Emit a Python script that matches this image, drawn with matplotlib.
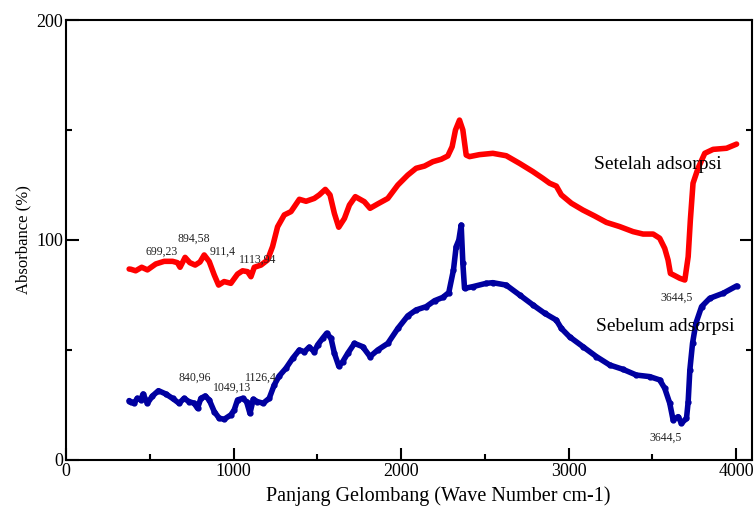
import matplotlib
matplotlib.use('Agg')
import matplotlib.pyplot as plt
from matplotlib.ticker import MultipleLocator

plt.rcParams['font.family'] = ['Liberation Serif', 'DejaVu Serif']

# Setelah adsorpsi (red)
wn_after = [377, 387, 416, 452, 486, 536, 586, 636, 665, 681, 711, 739, 771, 800, 825,
            855, 885, 911, 944, 984, 1024, 1054, 1084, 1104, 1124, 1164, 1203, 1233,
            1263, 1303, 1343, 1393, 1433, 1482, 1512, 1548, 1576, 1602, 1628, 1662,
            1692, 1727, 1781, 1815, 1861, 1921, 1981, 2040, 2090, 2140, 2190, 2240,
            2279, 2305, 2325, 2349, 2369, 2389, 2409, 2468, 2548, 2628, 2708, 2787,
            2847, 2887, 2927, 2957, 3017, 3086, 3156, 3226, 3305, 3385, 3445, 3505,
            3544, 3574, 3594, 3608, 3634, 3664, 3694, 3714, 3727, 3743, 3773, 3813,
            3863, 3943, 4003]
abs_after = [86.8, 86.7, 86.0, 87.6, 86.4, 89.1, 90.3, 90.3, 89.7, 87.6, 92.1, 89.7,
             88.6, 90.0, 93.2, 90.2, 84.1, 79.5, 81.1, 80.3, 84.5, 86.0, 85.6, 83.3,
             87.6, 88.6, 90.9, 97.0, 106.0, 111.4, 112.9, 118.5, 117.6, 118.9, 120.5,
             123.0, 120.5, 112.1, 105.8, 109.8, 115.9, 119.7, 117.4, 114.4, 116.4,
             118.9, 125.0, 129.5, 132.6, 133.6, 135.6, 136.7, 138.2, 142.4, 150.0,
             154.5, 150.0, 138.6, 137.9, 138.8, 139.4, 138.3, 134.8, 131.1, 128.0,
             125.8, 124.5, 120.5, 116.7, 113.6, 110.9, 108.0, 106.1, 103.8, 102.7,
             102.7, 100.8, 96.2, 90.9, 84.8, 83.8, 82.6, 81.8, 92.4, 109.0, 125.8,
             132.6, 139.4, 141.2, 141.7, 143.6]

# Sebelum adsorpsi (blue)
wn_before = [377, 387, 406, 426, 446, 460, 486, 516, 552, 596, 636, 675, 705, 735, 765,
             785, 805, 831, 855, 885, 914, 944, 984, 1004, 1024, 1054, 1078, 1098,
             1118, 1143, 1177, 1213, 1243, 1273, 1313, 1353, 1393, 1423, 1452, 1482,
             1502, 1532, 1556, 1582, 1602, 1628, 1652, 1682, 1722, 1771, 1815, 1861,
             1921, 1981, 2040, 2090, 2150, 2200, 2249, 2285, 2313, 2329, 2345, 2359,
             2369, 2379, 2429, 2508, 2548, 2628, 2708, 2787, 2857, 2927, 2957, 3006,
             3086, 3166, 3245, 3325, 3405, 3484, 3544, 3574, 3604, 3624, 3654, 3674,
             3704, 3714, 3724, 3740, 3760, 3794, 3843, 3923, 4003]
abs_before = [27.0, 26.5, 25.8, 28.0, 27.3, 30.0, 25.8, 29.1, 31.5, 30.0, 28.0, 25.8,
              28.0, 26.5, 25.8, 23.5, 28.0, 29.1, 27.3, 22.0, 19.0, 18.5, 20.5, 22.7,
              27.3, 28.0, 26.5, 21.2, 27.6, 26.5, 25.8, 28.0, 34.1, 38.2, 41.7, 46.2,
              50.0, 49.2, 51.3, 49.2, 52.3, 55.3, 57.6, 55.3, 48.5, 42.7, 44.7, 48.5,
              53.0, 51.5, 47.0, 50.0, 53.0, 59.8, 65.5, 68.2, 69.7, 72.4, 73.9, 76.1,
              86.4, 97.0, 100.0, 106.8, 89.4, 78.0, 78.8, 80.3, 80.6, 79.5, 75.0, 70.5,
              66.7, 63.6, 59.8, 56.0, 51.5, 47.0, 43.2, 41.2, 38.6, 37.9, 36.4, 32.6,
              25.8, 18.2, 19.7, 16.7, 18.9, 26.5, 40.9, 53.0, 62.1, 69.7, 73.5, 75.8,
              79.1]

peak_labels = ['699,23', '894,58', '911,4', '1113,94',
               '840,96', '1049,13', '1126,4', '3644,5', '3644,5']
peak_x = [568, 760, 933, 1142, 771, 992, 1165, 3646, 3577]
peak_y = [94.5, 100.5, 94.5, 91.0, 37.3, 33.0, 37.3, 73.6, 10.0]

fig = plt.figure(figsize=(7.56, 5.09), dpi=100)
ax = fig.add_axes([0.0873, 0.0963, 0.9074, 0.8644])

ax.plot(wn_after, abs_after, color='#ff0000', lw=4.0, solid_joinstyle='round',
        solid_capstyle='round')
ax.plot(wn_before, abs_before, color='#0000a0', lw=4.0, solid_joinstyle='round',
        solid_capstyle='round', marker='o', ms=3.5)

for t, x, y in zip(peak_labels, peak_x, peak_y):
    ax.text(x, y, t, fontsize=8.5, ha='center', va='center', color='#222222')

ax.text(3534, 134.5, 'Setelah adsorpsi', fontsize=14, ha='center', va='center')
ax.text(3577, 60.5, 'Sebelum adsorpsi', fontsize=14, ha='center', va='center')

ax.set_xlim(0, 4095)
ax.set_ylim(0, 200)
ax.xaxis.set_major_locator(MultipleLocator(1000))
ax.xaxis.set_minor_locator(MultipleLocator(500))
ax.yaxis.set_major_locator(MultipleLocator(100))
ax.yaxis.set_minor_locator(MultipleLocator(50))
ax.tick_params(which='both', direction='in', width=1.5, labelsize=13, pad=2,
               right=True, top=False)
ax.tick_params(which='major', length=9)
ax.tick_params(which='minor', length=4.5)
for s in ax.spines.values():
    s.set_linewidth(1.5)

ax.set_xlabel('Panjang Gelombang (Wave Number cm-1)', fontsize=14.5)
ax.xaxis.set_label_coords(0.542, -0.06, transform=ax.transAxes)
ax.xaxis.label.set_va('top')
ax.set_ylabel('Absorbance (%)', fontsize=12)
ax.yaxis.set_label_coords(-0.05, 0.5, transform=ax.transAxes)

fig.savefig('out.png', dpi=100)
